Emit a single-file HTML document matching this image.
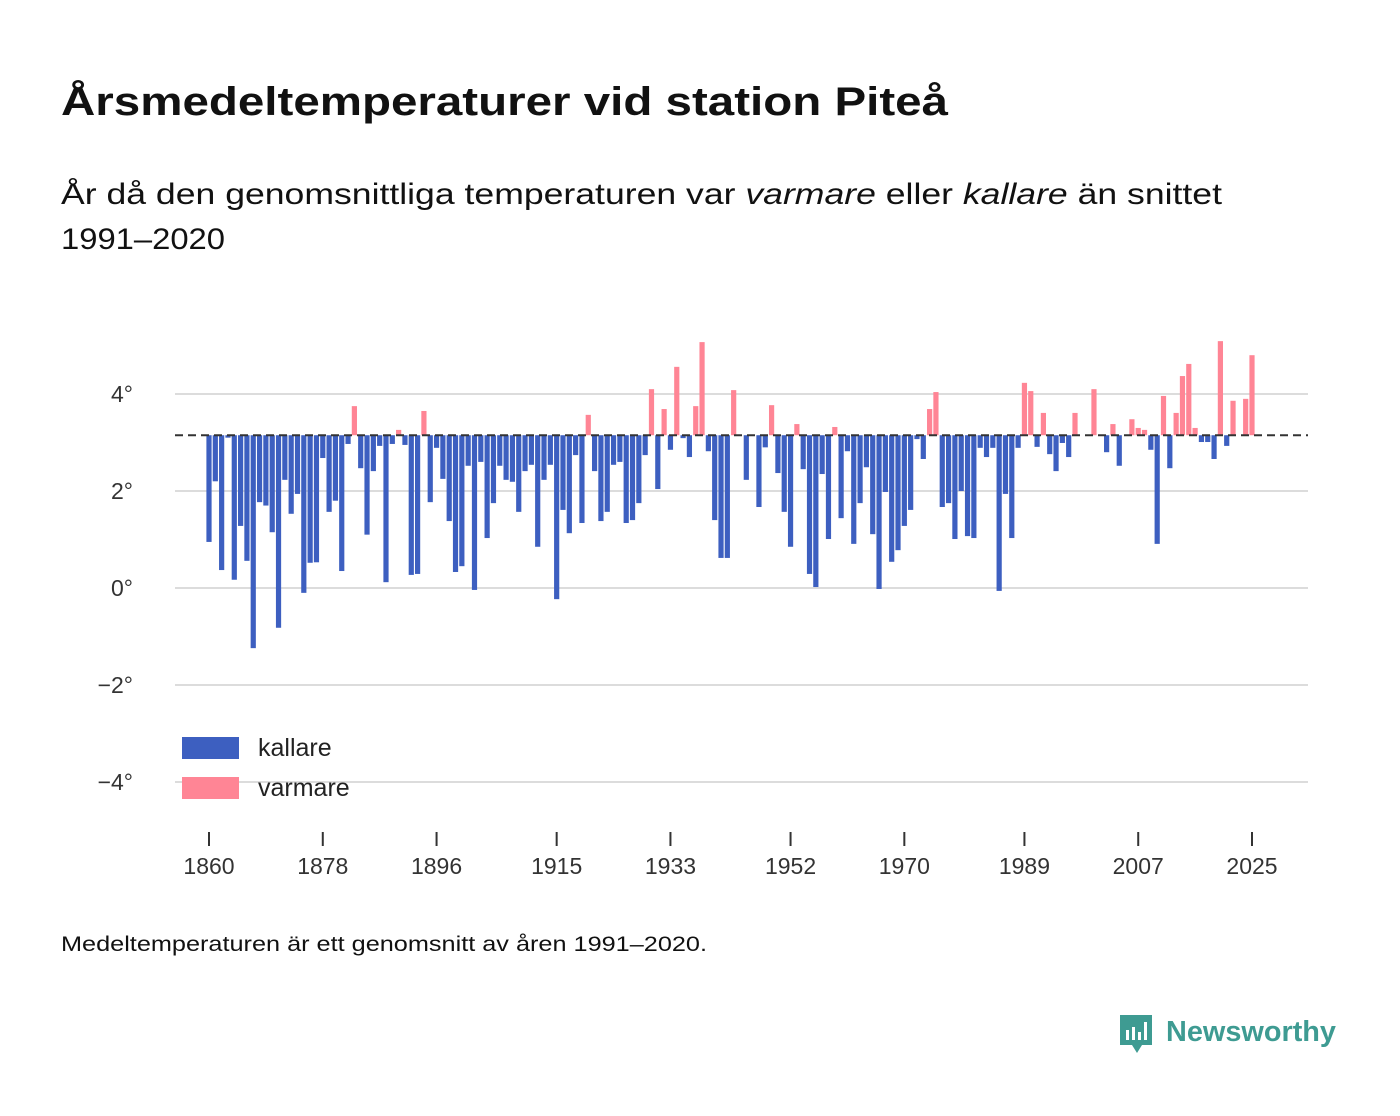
<!DOCTYPE html>
<html><head><meta charset="utf-8"><style>
body{margin:0;background:#fff;}
svg{display:block;font-family:"Liberation Sans",sans-serif;}
</style></head><body>
<svg id="chart" width="1400" height="1116">
<text x="61" y="115" font-size="40" font-weight="bold" fill="#111" textLength="887" lengthAdjust="spacingAndGlyphs">Årsmedeltemperaturer vid station Piteå</text>
<text x="61" y="204" font-size="30" fill="#111" textLength="1161" lengthAdjust="spacingAndGlyphs">År då den genomsnittliga temperaturen var <tspan font-style="italic">varmare</tspan> eller <tspan font-style="italic">kallare</tspan> än snittet</text>
<text x="61" y="249" font-size="30" fill="#111" textLength="164" lengthAdjust="spacingAndGlyphs">1991–2020</text>
<g id="grid"></g><g id="bars"></g><g id="xaxis"></g>
<g>
<rect x="182" y="737" width="57" height="22" fill="#3d5fc0"/>
<text x="258" y="756" font-size="25" fill="#222">kallare</text>
<rect x="182" y="777" width="57" height="22" fill="#ff8595"/>
<text x="258" y="796" font-size="25" fill="#222">varmare</text>
</g>
<text x="61" y="951" font-size="21" fill="#111" textLength="646" lengthAdjust="spacingAndGlyphs">Medeltemperaturen är ett genomsnitt av åren 1991–2020.</text>
<g>
<path d="M1120 1015 h32 v30 h-10 l-5 8 l-5 -8 h-12 z" fill="#3e9b92"/>
<rect x="1126" y="1030" width="3" height="10" fill="#fff"/><rect x="1132" y="1027" width="3" height="13" fill="#fff"/><rect x="1138" y="1032" width="3" height="8" fill="#fff"/><rect x="1144" y="1022" width="3" height="18" fill="#fff"/>
<text x="1166" y="1041" font-size="29" font-weight="bold" fill="#3e9b92" textLength="170" lengthAdjust="spacingAndGlyphs">Newsworthy</text>
</g>
</svg>
<script>
const years = [];
for (let y = 1860; y <= 2025; y++) years.push(y);
const temps = [
0.95,2.2,0.37,3.1,0.17,1.28,0.56,-1.24,1.77,1.7,
1.15,-0.82,2.23,1.53,1.94,-0.1,0.52,0.53,2.68,1.57,
1.8,0.35,2.97,3.75,2.47,1.1,2.41,2.93,0.12,2.97,
3.26,2.95,0.27,0.29,3.65,1.77,2.89,2.25,1.38,0.33,
0.45,2.52,-0.04,2.6,1.03,1.75,2.52,2.23,2.19,1.57,
2.41,2.54,0.85,2.23,2.54,-0.23,1.61,1.13,2.74,1.34,
3.57,2.41,1.38,1.57,2.54,2.6,1.34,1.4,1.75,2.74,
4.1,2.04,3.69,2.85,4.56,3.09,2.7,3.75,5.07,2.82,
1.4,0.62,0.62,4.08,3.15,2.23,3.15,1.67,2.9,3.77,
2.37,1.57,0.85,3.38,2.45,0.29,0.02,2.35,1.01,3.32,
1.44,2.82,0.91,1.75,2.49,1.11,-0.02,1.98,0.54,0.78,
1.28,1.61,3.07,2.66,3.69,4.04,1.67,1.75,1.01,2.0,
1.07,1.03,2.89,2.7,2.89,-0.06,1.94,1.03,2.89,4.23,
4.06,2.91,3.61,2.76,2.41,2.99,2.7,3.61,3.15,3.15,
4.1,3.15,2.8,3.38,2.52,3.15,3.48,3.3,3.26,2.85,
0.91,3.96,2.47,3.61,4.37,4.62,3.3,3.01,3.01,2.66,
5.09,2.93,3.86,3.15,3.9,4.8
];
const baseline = 3.15;
const yTicks = [-4,-2,0,2,4];
const yTickLabels = ["−4°","−2°","0°","2°","4°"];
const xTicks = [1860,1878,1896,1915,1933,1952,1970,1989,2007,2025];

const NS = "http://www.w3.org/2000/svg";
const yScale = v => 588 - v * 48.5;
const xScale = yr => 209 + (yr - 1860) * (1252 - 209) / 165;
function mk(tag, attrs, parent) {
  const e = document.createElementNS(NS, tag);
  for (const k in attrs) e.setAttribute(k, attrs[k]);
  parent.appendChild(e);
  return e;
}
const grid = document.getElementById('grid');
yTicks.forEach((t, i) => {
  const l = mk('line', {x1:175, x2:1308, y1:yScale(t), y2:yScale(t), stroke:'#dcdcdc', 'stroke-width':2}, grid);
  
  
  const tx = mk('text', {x:133, y:yScale(t)+8, 'font-size':23, 'text-anchor':'end', fill:'#333'}, grid);
  tx.textContent = yTickLabels[i];
  
  
});
const bars = document.getElementById('bars');
years.forEach((yr, i) => {
  const v = temps[i];
  const y0 = yScale(baseline), y1 = yScale(v);
  const r = mk('rect', {x:xScale(yr)-2.6, width:5.2, y:Math.min(y0,y1), height:Math.abs(y1-y0), fill: v >= baseline ? '#ff8595' : '#3d5fc0'}, bars);
  
  
});
const bl = mk('line', {x1:175, x2:1308, y1:yScale(baseline), y2:yScale(baseline), stroke:'#333', 'stroke-width':2, 'stroke-dasharray':'8,5'}, bars);


const xa = document.getElementById('xaxis');
xTicks.forEach(t => {
  const l = mk('line', {x1:xScale(t), x2:xScale(t), y1:832, y2:846, stroke:'#333', 'stroke-width':2}, xa);
  
  
  const tx = mk('text', {x:xScale(t), y:874, 'font-size':23, 'text-anchor':'middle', fill:'#333'}, xa);
  tx.textContent = t;
  
  
});
</script>
</body></html>
